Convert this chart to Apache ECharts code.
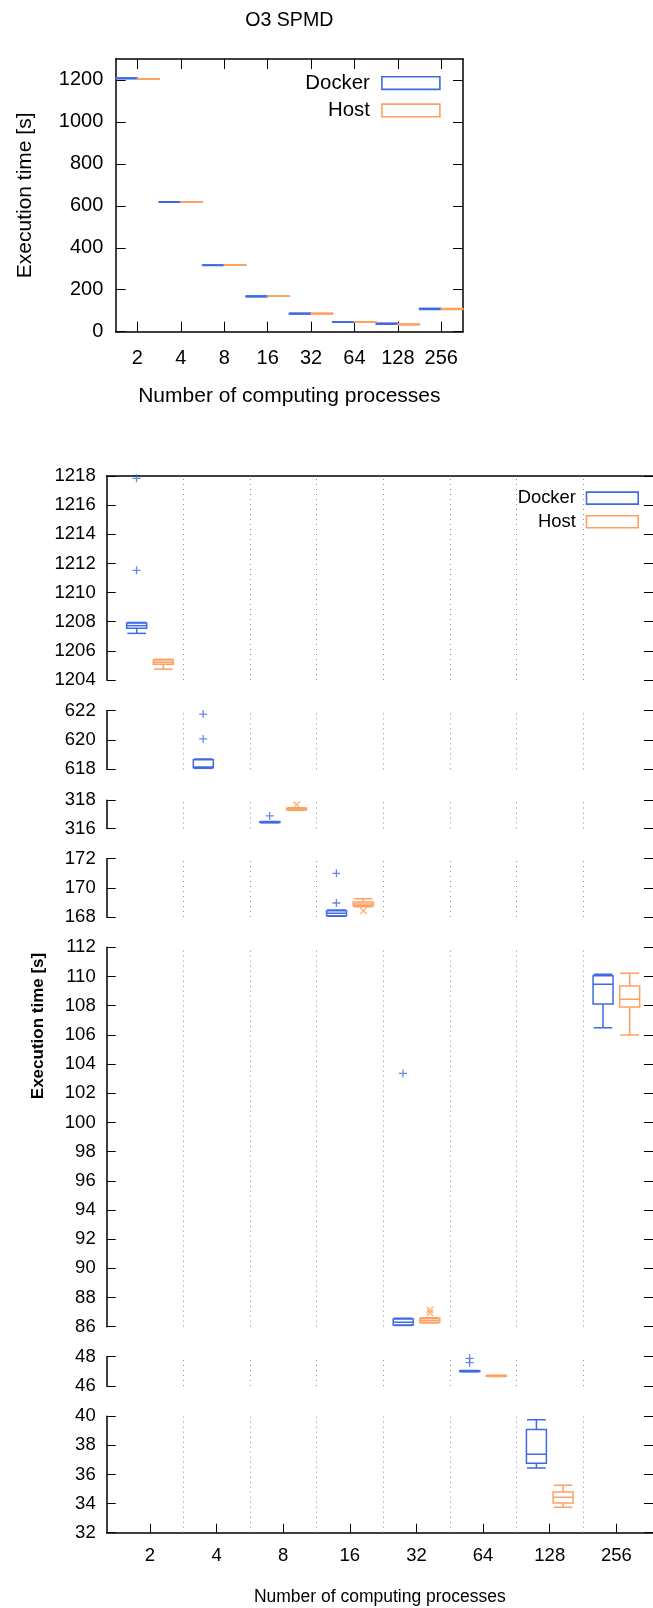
<!DOCTYPE html>
<html>
<head>
<meta charset="utf-8">
<title>O3 SPMD</title>
<script src="https://cdn.jsdelivr.net/npm/echarts@6/dist/echarts.min.js"></script>
<style>
  html, body { margin: 0; padding: 0; background: #fff; }
  #chart { width: 653px; height: 1608px; }
</style>
</head>
<body>
<div id="chart"></div>
<script>
// ---- data ----------------------------------------------------------------
const categories = ['2', '4', '8', '16', '32', '64', '128', '256'];

// five-number summaries: [lower whisker, Q1, median, Q3, upper whisker]
const dockerStats = [
  [1207.20, 1207.55, 1207.73, 1207.91, 1207.95],
  [618.05, 618.10, 618.15, 618.66, 618.70],
  [316.40, 316.42, 316.44, 316.47, 316.49],
  [168.05, 168.09, 168.25, 168.43, 168.48],
  [86.08, 86.12, 86.30, 86.53, 86.58],
  [46.98, 46.99, 47.02, 47.04, 47.06],
  [36.45, 36.77, 37.39, 39.10, 39.77],
  [106.49, 108.11, 109.46, 110.05, 110.15]
];
const hostStats = [
  [1204.75, 1205.08, 1205.22, 1205.37, 1205.42],
  [616.90, 617.10, 617.25, 617.40, 617.60],
  [317.30, 317.33, 317.38, 317.44, 317.47],
  [168.70, 168.78, 168.90, 169.03, 169.26],
  [86.25, 86.30, 86.44, 86.58, 86.62],
  [46.65, 46.67, 46.69, 46.71, 46.73],
  [33.75, 34.04, 34.43, 34.80, 35.26],
  [105.99, 107.91, 108.44, 109.35, 110.22]
];

// outliers: [category index, seconds]
const dockerOutliers = [
  [0, 1217.84], [0, 1211.53], [1, 621.77], [1, 620.07], [2, 316.89],
  [3, 171.00], [3, 168.96], [4, 103.36], [5, 47.89], [5, 47.59]
];
const hostOutliers = [
  [2, 317.68], [3, 168.43], [4, 87.15], [4, 86.95]
];

// overview axis ticks and the value ranges of the broken-axis panels
const overviewTicks = [0, 200, 400, 600, 800, 1000, 1200];
const overviewMax = 1300;
const panelRanges = [[1204, 1218], [618, 622], [316, 318], [168, 172], [86, 112], [46, 48], [32, 40]];
const panelStep = 2;

// ---- layout & style ------------------------------------------------------
const FONT = 'Liberation Sans';
const DOCKER = '#4169e1';
const HOST = '#ffa060';
const INK = '#000';

const overviewGrid = { left: 115.7, top: 59, width: 347.3, height: 272.7 };
const panelLeft = 106.7, panelWidth = 552.8;
const panelTops = [476, 710.7, 800.3, 858.7, 947.3, 1356.7, 1416.3];
const panelHeights = [204, 58.6, 28.2, 58.3, 379.4, 29.3, 116.4];

const positions = categories.map((c, i) => i + 1);
const catLabel = v => categories[Math.round(v) - 1] || '';
const plainNum = v => String(v);

const PLUS = 'path://M4.2,0H5.8V4.2H10V5.8H5.8V10H4.2V5.8H0V4.2H4.2Z';

function boxRenderer(offset, halfW, capHalf, color, lw) {
  return function (params, api) {
    const c = api.value(0) + offset;
    const lo = api.value(1), q1 = api.value(2), md = api.value(3), q3 = api.value(4), hi = api.value(5);
    const P = (x, y) => api.coord([x, y]);
    const style = { stroke: color, fill: 'none', lineWidth: lw };
    const seg = (a, b) => ({ type: 'line', shape: { x1: a[0], y1: a[1], x2: b[0], y2: b[1] }, style: style });
    const tl = P(c - halfW, q3), br = P(c + halfW, q1);
    return {
      type: 'group',
      children: [
        { type: 'rect', shape: { x: tl[0], y: tl[1], width: br[0] - tl[0], height: br[1] - tl[1] }, style: style },
        seg(P(c - halfW, md), P(c + halfW, md)),
        seg(P(c, q3), P(c, hi)),
        seg(P(c, q1), P(c, lo)),
        seg(P(c - capHalf, hi), P(c + capHalf, hi)),
        seg(P(c - capHalf, lo), P(c + capHalf, lo))
      ]
    };
  };
}

const toRows = stats => stats.map((s, i) => [positions[i]].concat(s));

const grids = [], xAxes = [], yAxes = [], series = [];

// ---- overview chart ------------------------------------------------------
grids.push(overviewGrid);
const ovTick = { inside: true, length: 10, lineStyle: { color: INK, width: 1 } };
xAxes.push({
  gridIndex: 0, type: 'value', min: 0.5, max: 8.5, position: 'bottom',
  axisLine: { onZero: false, lineStyle: { color: INK, width: 1.5 } },
  axisTick: Object.assign({ customValues: positions }, ovTick),
  axisLabel: { customValues: positions, formatter: catLabel, fontSize: 20, color: INK, margin: 17, fontFamily: FONT },
  splitLine: { show: false },
  name: 'Number of computing processes', nameLocation: 'middle', nameGap: 54,
  nameTextStyle: { fontSize: 21, color: INK, fontFamily: FONT }
});
xAxes.push({
  gridIndex: 0, type: 'value', min: 0.5, max: 8.5, position: 'top',
  axisLine: { onZero: false, lineStyle: { color: INK, width: 1.5 } },
  axisTick: Object.assign({ customValues: positions }, ovTick),
  axisLabel: { show: false }, splitLine: { show: false }
});
yAxes.push({
  gridIndex: 0, type: 'value', min: 0, max: overviewMax, position: 'left',
  axisLine: { show: true, onZero: false, lineStyle: { color: INK, width: 1.5 } },
  axisTick: Object.assign({ customValues: overviewTicks }, ovTick),
  axisLabel: { customValues: overviewTicks, formatter: plainNum, fontSize: 20, color: INK, margin: 12.4, fontFamily: FONT },
  splitLine: { show: false },
  name: 'Execution time [s]', nameLocation: 'middle', nameGap: 80.2,
  nameTextStyle: { fontSize: 21, color: INK, fontFamily: FONT }
});
yAxes.push({
  gridIndex: 0, type: 'value', min: 0, max: overviewMax, position: 'right',
  axisLine: { show: true, onZero: false, lineStyle: { color: INK, width: 1.5 } },
  axisTick: Object.assign({ customValues: overviewTicks }, ovTick),
  axisLabel: { show: false }, splitLine: { show: false }
});
series.push({
  name: 'Docker', type: 'custom', xAxisIndex: 0, yAxisIndex: 0, clip: true,
  renderItem: boxRenderer(-0.25, 0.25, 0.25, DOCKER, 1.6),
  encode: { x: 0, y: [1, 2, 3, 4, 5] }, data: toRows(dockerStats)
});
series.push({
  name: 'Host', type: 'custom', xAxisIndex: 0, yAxisIndex: 0, clip: true,
  renderItem: boxRenderer(0.25, 0.25, 0.25, HOST, 1.6),
  encode: { x: 0, y: [1, 2, 3, 4, 5] }, data: toRows(hostStats)
});

// ---- broken-axis detail chart --------------------------------------------
const separators = positions.slice(0, -1).map(p => ({ xAxis: p + 0.5 }));
const detTick = { inside: true, length: 9, lineStyle: { color: INK, width: 1 } };
const inRange = (v, r) => v >= r[0] - 1e-9 && v <= r[1] + 1e-9;

panelRanges.forEach((range, p) => {
  const g = grids.length;
  grids.push({ left: panelLeft, top: panelTops[p], width: panelWidth, height: panelHeights[p] });
  const last = p === panelRanges.length - 1;

  const xi = xAxes.length;
  xAxes.push({
    gridIndex: g, type: 'value', min: 0.35, max: 8.55, position: 'bottom', show: last,
    axisLine: { onZero: false, lineStyle: { color: INK, width: 1.5 } },
    axisTick: Object.assign({ customValues: positions }, detTick),
    axisLabel: { customValues: positions, formatter: catLabel, fontSize: 18.5, color: INK, margin: 14, fontFamily: FONT },
    splitLine: { show: false },
    name: last ? 'Number of computing processes' : '', nameLocation: 'middle', nameGap: 55.5,
    nameTextStyle: { fontSize: 17.5, color: INK, fontFamily: FONT }
  });
  if (p === 0) {
    xAxes.push({
      gridIndex: g, type: 'value', min: 0.35, max: 8.55, position: 'top',
      axisLine: { onZero: false, lineStyle: { color: INK, width: 1.5 } },
      axisTick: { show: false }, axisLabel: { show: false }, splitLine: { show: false }
    });
  }

  const yi = yAxes.length;
  yAxes.push({
    gridIndex: g, type: 'value', min: range[0], max: range[1], interval: panelStep, position: 'left',
    axisLine: { show: true, onZero: false, lineStyle: { color: INK, width: 1.5 } },
    axisTick: detTick,
    axisLabel: { formatter: plainNum, fontSize: 18.5, color: INK, margin: 11, fontFamily: FONT },
    splitLine: { show: false }
  });
  yAxes.push({
    gridIndex: g, type: 'value', min: range[0], max: range[1], interval: panelStep, position: 'right',
    axisLine: { show: false }, axisTick: detTick, axisLabel: { show: false }, splitLine: { show: false }
  });

  const rowsIn = stats => toRows(stats).filter(r => inRange(r[3], range));
  const ptsIn = pts => pts.filter(o => inRange(o[1], range)).map(o => [positions[o[0]], o[1]]);

  series.push({
    name: 'Docker', type: 'custom', xAxisIndex: xi, yAxisIndex: yi, clip: true,
    renderItem: boxRenderer(-0.2, 0.15, 0.14, DOCKER, 1.5),
    encode: { x: 0, y: [1, 2, 3, 4, 5] }, data: rowsIn(dockerStats),
    markLine: {
      silent: true, symbol: 'none', label: { show: false },
      lineStyle: { color: '#8c8c8c', width: 1, type: [1, 4] },
      data: separators
    }
  });
  series.push({
    name: 'Host', type: 'custom', xAxisIndex: xi, yAxisIndex: yi, clip: true,
    renderItem: boxRenderer(0.2, 0.15, 0.14, HOST, 1.5),
    encode: { x: 0, y: [1, 2, 3, 4, 5] }, data: rowsIn(hostStats)
  });
  series.push({
    name: 'Docker', type: 'scatter', xAxisIndex: xi, yAxisIndex: yi, clip: true,
    symbol: PLUS, symbolSize: 8, symbolOffset: [-0.2 * panelWidth / 8.2, 0],
    itemStyle: { color: DOCKER }, data: ptsIn(dockerOutliers)
  });
  series.push({
    name: 'Host', type: 'scatter', xAxisIndex: xi, yAxisIndex: yi, clip: true,
    symbol: PLUS, symbolSize: 9, symbolRotate: 45, symbolOffset: [0.2 * panelWidth / 8.2, 0],
    itemStyle: { color: HOST }, data: ptsIn(hostOutliers)
  });
});

const legendItems = [
  { name: 'Docker', icon: 'rect', itemStyle: { color: '#fff', borderColor: DOCKER, borderWidth: 1.6 } },
  { name: 'Host', icon: 'rect', itemStyle: { color: '#fff', borderColor: HOST, borderWidth: 1.6 } }
];

const chart = echarts.init(document.getElementById('chart'), null, { renderer: 'canvas' });
chart.setOption({
  animation: false,
  backgroundColor: '#fff',
  textStyle: { fontFamily: FONT, color: INK },
  title: {
    text: 'O3 SPMD', left: 289.3, top: 10.2, padding: 0, textAlign: 'center',
    textStyle: { fontSize: 19.6, fontWeight: 'normal', color: INK, fontFamily: FONT }
  },
  legend: [
    {
      orient: 'vertical', align: 'right', right: 212.3, top: 73.1, padding: 0,
      itemWidth: 58, itemHeight: 12.6, itemGap: 7.3, selectedMode: false,
      textStyle: { fontSize: 20.4, color: INK, fontFamily: FONT, padding: [0, 7, 0, 0] },
      data: legendItems
    },
    {
      orient: 'vertical', align: 'right', right: 14, top: 489.1, padding: 0,
      itemWidth: 51.7, itemHeight: 12, itemGap: 5.6, selectedMode: false,
      textStyle: { fontSize: 18.4, color: INK, fontFamily: FONT, padding: [0, 5.6, 0, 0] },
      data: legendItems
    }
  ],
  grid: grids,
  xAxis: xAxes,
  yAxis: yAxes,
  series: series,
  graphic: [{
    type: 'text', x: 38, y: 1026, rotation: Math.PI / 2,
    style: {
      text: 'Execution time [s]', align: 'center', verticalAlign: 'middle',
      fontSize: 17, fontWeight: 'bold', fontFamily: FONT, fill: INK
    }
  }]
});
</script>
</body>
</html>
